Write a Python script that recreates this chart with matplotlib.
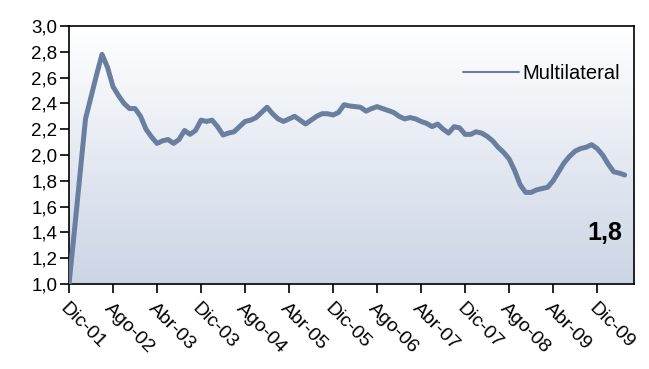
import matplotlib.pyplot as plt
import numpy as np

# monthly index, Dic-01 .. May-10
multilateral = [
    1.00, 1.42, 1.85, 2.28, 2.45, 2.62, 2.78, 2.68, 2.53, 2.46,
    2.40, 2.36, 2.36, 2.30, 2.20, 2.14, 2.09, 2.11, 2.12, 2.09,
    2.12, 2.19, 2.16, 2.19, 2.27, 2.26, 2.27, 2.22, 2.155, 2.17,
    2.18, 2.22, 2.26, 2.27, 2.29, 2.33, 2.37, 2.32, 2.28, 2.26,
    2.28, 2.30, 2.27, 2.24, 2.27, 2.30, 2.32, 2.32, 2.31, 2.33,
    2.39, 2.38, 2.375, 2.37, 2.34, 2.36, 2.375, 2.36, 2.345, 2.33,
    2.30, 2.28, 2.29, 2.28, 2.26, 2.245, 2.22, 2.24, 2.20, 2.17,
    2.22, 2.21, 2.16, 2.16, 2.18, 2.17, 2.145, 2.11, 2.06, 2.02,
    1.97, 1.88, 1.77, 1.71, 1.71, 1.73, 1.74, 1.75, 1.80, 1.87,
    1.94, 1.99, 2.03, 2.05, 2.06, 2.08, 2.05, 2.00, 1.93, 1.87,
    1.86, 1.845,
]
tick_labels = ["Dic-01", "Ago-02", "Abr-03", "Dic-03", "Ago-04", "Abr-05",
               "Dic-05", "Ago-06", "Abr-07", "Dic-07", "Ago-08", "Abr-09",
               "Dic-09"]
last_value = 1.8

plt.rcParams['font.family'] = ['Liberation Sans', 'DejaVu Sans']

fig = plt.figure(figsize=(6.49, 3.69), dpi=100)
ax = fig.add_axes([69 / 649, 85 / 369, 565 / 649, 258 / 369])

months = np.arange(len(multilateral))
xmax = 102.7
line_color = "#6a7ea0"

# vertical gradient background, white at top to pale blue-grey at bottom
grad = np.linspace(0, 1, 256).reshape(-1, 1)
top = np.array([1.0, 1.0, 1.0])
bottom = np.array([0xcb, 0xd5, 0xe5]) / 255
img = top + (bottom - top) * grad[:, :, None]
ax.imshow(img, extent=[0, xmax, 1.0, 3.0], origin='upper', aspect='auto', zorder=0)

ax.plot(months, multilateral, color=line_color, lw=3.6, label="Multilateral",
        solid_joinstyle='round', solid_capstyle='round', zorder=3)

ax.set_xlim(0, xmax)
ax.set_ylim(1.0, 3.0)
yt = np.arange(1.0, 3.01, 0.2)
ax.set_yticks(yt)
ax.set_yticklabels([f"{v:.1f}".replace(".", ",") for v in yt], fontsize=13.5)
ax.set_xticks(np.arange(0, 8 * len(tick_labels), 8))
ax.set_xticklabels(tick_labels, rotation=-45, ha='left', va='top',
                   rotation_mode='anchor', fontsize=14)
ax.tick_params(direction='out', length=6.5, width=1.2, color='black', pad=2)
ax.tick_params(axis='x', pad=5)
for s in ax.spines.values():
    s.set_linewidth(1.2)

leg = ax.legend(loc='center right', frameon=False, fontsize=14.5,
                handlelength=2.8, handletextpad=0.15, borderpad=0,
                borderaxespad=0, bbox_to_anchor=(0.975, 0.816))
for h in leg.get_lines():
    h.set_linewidth(1.5)

ax.text(0.979, 0.198, f"{last_value:.1f}".replace(".", ","), transform=ax.transAxes,
        ha='right', va='center', fontsize=18, fontweight='bold')

fig.savefig("out.png", dpi=100)
